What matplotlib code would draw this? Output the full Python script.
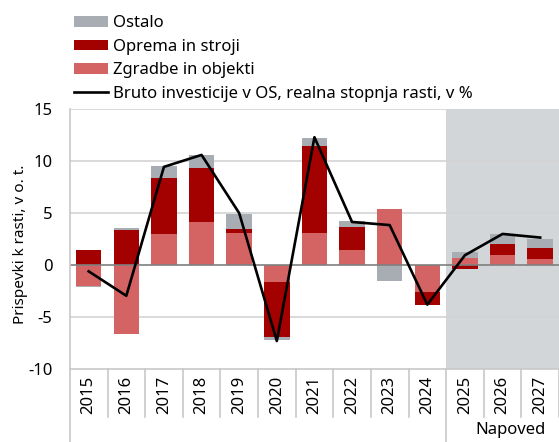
import numpy as np
import matplotlib
matplotlib.use("Agg")
import matplotlib.pyplot as plt
from matplotlib.transforms import blended_transform_factory

plt.rcParams['font.family'] = ['Noto Sans', 'DejaVu Sans']

# data
years = ['2015', '2016', '2017', '2018', '2019', '2020', '2021',
         '2022', '2023', '2024', '2025', '2026', '2027']
zgradbe = [-2.0, -6.6, 3.0, 4.1, 3.1, -1.6, 3.1, 1.5, 5.4, -2.6, 0.7, 1.0, 0.55]
oprema = [1.5, 3.4, 5.4, 5.2, 0.35, -5.3, 8.4, 2.15, 0.0, -1.2, -0.4, 1.05, 1.05]
ostalo = [-0.15, 0.2, 1.1, 1.3, 1.45, -0.35, 0.75, 0.55, -1.5, 0.0, 0.55, 0.95, 0.95]
bruto = [-0.6, -2.95, 9.45, 10.6, 5.0, -7.3, 12.3, 4.15, 3.85, -3.8, 0.95, 3.0, 2.65]

series = [('Zgradbe in objekti', zgradbe, '#D46464'),
          ('Oprema in stroji', oprema, '#A30000'),
          ('Ostalo', ostalo, '#A7ADB3')]

fig = plt.figure(figsize=(5.59, 4.42), dpi=100)
ax = fig.add_axes([0.125, 0.165, 0.875, 0.588])

x = np.arange(len(years))
pos = np.zeros(len(years))
neg = np.zeros(len(years))
handles = {}
for name, vals, col in series:
    v = np.array(vals)
    bottom = np.where(v >= 0, pos, neg)
    b = ax.bar(x, v, 0.68, bottom=bottom, color=col, label=name, zorder=2)
    handles[name] = b
    pos += np.where(v >= 0, v, 0)
    neg += np.where(v < 0, v, 0)

ln, = ax.plot(x, bruto, color='black', lw=1.9, zorder=3,
              label='Bruto investicije v OS, realna stopnja rasti, v %')

# forecast shading
ax.axvspan(9.5, 12.5, color='#D3D6D9', zorder=0, lw=0)

ax.set_xlim(-0.5, 12.5)
ax.set_ylim(-10, 15)
ax.set_yticks([-10, -5, 0, 5, 10, 15])
ax.set_yticklabels(['-10', '-5', '0', '5', '10', '15'], fontsize=12)
for yv in [-5, 5, 10, 15]:
    ax.axhline(yv, color='#D3D3D3', lw=1.2, zorder=1)
ax.axhline(0, color='#7F7F7F', lw=1.2, zorder=2.5)
ax.set_ylabel('Prispevki k rasti, v o. t.', fontsize=11)
ax.yaxis.set_label_coords(-0.086, 0.48)

for s in ['top', 'right']:
    ax.spines[s].set_visible(False)
ax.spines['left'].set_color('#C8C8C8')
ax.spines['bottom'].set_color('#C8C8C8')
ax.spines['left'].set_linewidth(1.2)
ax.spines['bottom'].set_linewidth(1.2)
ax.tick_params(axis='y', length=0, pad=12.5)
ax.tick_params(axis='x', length=0, pad=5)
ax.set_xticks(x)
ax.set_xticklabels(years, rotation=90, fontsize=12)

# category separators below the axis
tr = blended_transform_factory(ax.transData, ax.transAxes)
for k in range(len(years) + 1):
    xs = k - 0.5
    low = -0.285 if k in (0, 10) else -0.185
    ax.plot([xs, xs], [0, low], color='#C8C8C8', lw=1.2, transform=tr,
            clip_on=False)
ax.text(11.2, -0.235, 'Napoved', transform=tr, ha='center', va='center',
        fontsize=12)

order = ['Ostalo', 'Oprema in stroji', 'Zgradbe in objekti']
fig.legend([handles[n] for n in order] + [ln],
           order + [ln.get_label()],
           loc='upper left', bbox_to_anchor=(0.115, 0.988), frameon=False,
           fontsize=12, handlelength=2.05, handleheight=0.6,
           handletextpad=0.3, labelspacing=0.45, borderaxespad=0.2)

fig.savefig('out.png', dpi=100)
